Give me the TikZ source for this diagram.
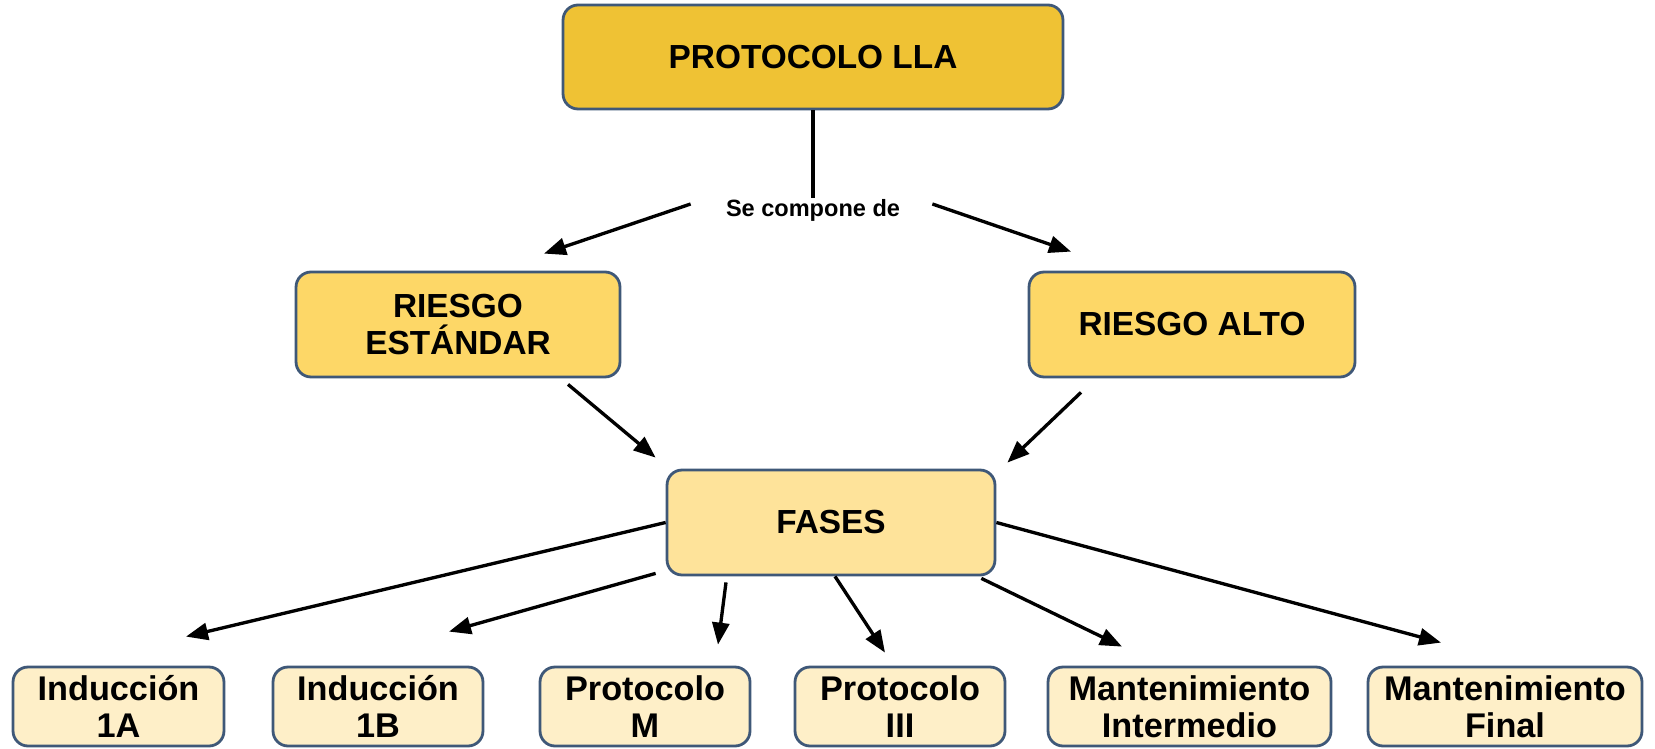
\documentclass[tikz,border=0pt]{standalone}
\usepackage{fontspec}
\setmainfont{Liberation Sans}
\usetikzlibrary{calc,arrows.meta}
\definecolor{bordc}{HTML}{3F5878}
\definecolor{topc}{HTML}{EFC234}
\definecolor{midc}{HTML}{FDD767}
\definecolor{fasc}{HTML}{FEE39A}
\definecolor{botc}{HTML}{FEEFC8}
\tikzset{
  box/.style={draw=bordc, line width=1.6pt, rounded corners=0.3cm, align=center,
    font=\fontsize{19}{21}\selectfont\bfseries, inner sep=0pt},
  botbox/.style={box, fill=botc, minimum height=1.58cm,
    font=\fontsize{19.5}{21}\selectfont\bfseries},
  arr/.style={line width=1.9pt, -{Triangle[length=0.44cm,width=0.34cm]}},
  plain/.style={line width=2.3pt}
}
\begin{document}
\begin{tikzpicture}[x=0.02cm,y=-0.02cm]
\useasboundingbox (0,0) rectangle (1655,749);
\node[box, fill=topc, minimum width=10cm, minimum height=2.08cm] (top) at (813,57) {PROTOCOLO LLA};
\node[font=\fontsize{13.4}{15}\selectfont\bfseries, inner sep=0pt, text height=0.3cm, text depth=0.08cm] (lbl) at (813,211) {Se compone de};
\node[box, fill=midc, minimum width=6.48cm, minimum height=2.1cm] (re) at (458,324.5) {RIESGO\\EST\'ANDAR};
\node[box, fill=midc, minimum width=6.52cm, minimum height=2.1cm] (ra) at (1192,324.5) {RIESGO ALTO};
\node[box, fill=fasc, minimum width=6.56cm, minimum height=2.1cm] (fases) at (831,522.5) {FASES};
\node[botbox, minimum width=4.22cm] (n1a) at (118.5,706.5) {Inducci\'on\\1A};
\node[botbox, minimum width=4.2cm] (n1b) at (378,706.5) {Inducci\'on\\1B};
\node[botbox, minimum width=4.2cm] (nm) at (645,706.5) {Protocolo\\M};
\node[botbox, minimum width=4.2cm] (n3) at (900,706.5) {Protocolo\\III};
\node[botbox, minimum width=5.66cm] (nmi) at (1189.5,706.5) {Mantenimiento\\Intermedio};
\node[botbox, minimum width=5.48cm] (nmf) at (1505,706.5) {Mantenimiento\\Final};

\draw[plain] (top.south) -- ($(lbl.north)+(0,-3)$);
\draw[arr] ($(lbl.west)+(-35,-7)$) -- ($(re.north)+(86,-17)$);
\draw[arr] ($(lbl.east)+(32,-7)$) -- ($(ra.north)+(-121,-19)$);
\draw[arr] ($(re.south)+(110,6)$) -- ($(fases.north west)+(-10,-11)$);
\draw[arr] ($(ra.south)+(-111,14)$) -- ($(fases.north east)+(11,-6)$);
\draw[arr] (fases.west) -- ($(n1a.north)+(67.5,-29)$);
\draw[arr] ($(fases.south west)+(-10,-3)$) -- ($(n1b.north)+(71,-34)$);
\draw[arr] ($(fases.south)+(-105,6)$) -- ($(nm.north)+(73,-21)$);
\draw[arr] ($(fases.south)+(4,0)$) -- ($(n3.north)+(-15,-13)$);
\draw[arr] ($(fases.south east)+(-15,2)$) -- ($(nmi.north)+(-67.5,-19)$);
\draw[arr] (fases.east) -- ($(nmf.north)+(-64,-23)$);
\end{tikzpicture}
\end{document}
